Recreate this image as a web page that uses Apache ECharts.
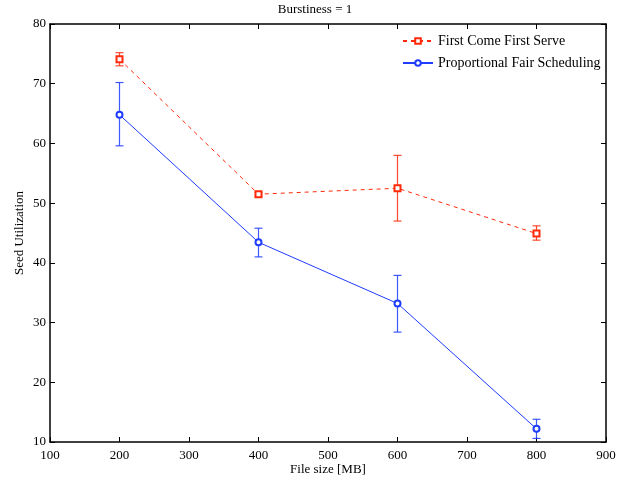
<!DOCTYPE html>
<html><head><meta charset="utf-8">
<script src="https://cdn.jsdelivr.net/npm/echarts@6/dist/echarts.min.js"></script>
<style>html,body{margin:0;padding:0;background:#fff}#c{width:630px;height:479px}</style>
</head><body><div id="c"></div>
<script>
const fileSizes = [200, 400, 600, 800];
const fcfsMean = [74.1, 51.5, 52.5, 44.9];
const fcfsLow  = [73.0, 51.2, 47.0, 43.8];
const fcfsHigh = [75.2, 51.8, 58.0, 46.2];
const pfsMean = [64.8, 43.45, 33.2, 12.2];
const pfsLow  = [59.6, 41.0, 28.4, 10.6];
const pfsHigh = [70.2, 45.8, 37.9, 13.8];

const RED = '#ff2a0a', BLUE = '#1f3cff';
const FONT = 'Liberation Serif';

function errSeries(low, high, color) {
  return {
    type: 'custom', silent: true, z: 3,
    data: fileSizes.map((x, i) => [x, low[i], high[i]]),
    renderItem: function (params, api) {
      const lo = api.coord([api.value(0), api.value(1)]);
      const hi = api.coord([api.value(0), api.value(2)]);
      const w = 4;
      const st = { stroke: color, lineWidth: 1.2, opacity: 0.85 };
      return { type: 'group', children: [
        { type: 'line', shape: { x1: lo[0], y1: lo[1], x2: hi[0], y2: hi[1] }, style: st },
        { type: 'line', shape: { x1: lo[0] - w, y1: lo[1], x2: lo[0] + w, y2: lo[1] }, style: st },
        { type: 'line', shape: { x1: hi[0] - w, y1: hi[1], x2: hi[0] + w, y2: hi[1] }, style: st }
      ]};
    }
  };
}

const axisCommon = {
  axisLine: { show: true, lineStyle: { color: '#000', width: 1.5 } },
  axisTick: { show: true, inside: true, length: 5, lineStyle: { color: '#000', width: 1 } },
  splitLine: { show: false },
  axisLabel: { color: '#000', fontFamily: FONT, fontSize: 13 }
};

const chart = echarts.init(document.getElementById('c'));
chart.setOption({
  animation: false,
  backgroundColor: '#fff',
  title: { text: 'Burstiness = 1', left: 'center', top: 3, padding: 0,
    textStyle: { fontFamily: FONT, fontSize: 13, fontWeight: 'normal', color: '#000' } },
  grid: { left: 50, right: 24, top: 24, bottom: 37, containLabel: false, outerBoundsMode: 'none' },
  legend: {
    orient: 'vertical', left: 402, top: 34, itemGap: 8,
    padding: 0, itemWidth: 30, itemHeight: 7,
    textStyle: { fontFamily: FONT, fontSize: 14, color: '#000' },
    data: ['First Come First Serve', 'Proportional Fair Scheduling']
  },
  xAxis: [
    Object.assign({}, axisCommon, { type: 'value', min: 100, max: 900, interval: 100,
      name: 'File size [MB]', nameLocation: 'middle', nameGap: 21, nameMoveOverlap: false,
      nameTextStyle: { fontFamily: FONT, fontSize: 13, color: '#000' },
      axisLabel: { color: '#000', fontFamily: FONT, fontSize: 13, margin: 7 } }),
    Object.assign({}, axisCommon, { type: 'value', position: 'top', min: 100, max: 900, interval: 100,
      axisLabel: { show: false } })
  ],
  yAxis: [
    Object.assign({}, axisCommon, { type: 'value', min: 10, max: 80, interval: 10,
      name: 'Seed Utilization', nameLocation: 'middle', nameGap: 24, nameMoveOverlap: false,
      nameTextStyle: { fontFamily: FONT, fontSize: 13, color: '#000' },
      axisLabel: { color: '#000', fontFamily: FONT, fontSize: 13, margin: 4 } }),
    Object.assign({}, axisCommon, { type: 'value', position: 'right', min: 10, max: 80, interval: 10,
      axisLabel: { show: false } })
  ],
  series: [
    { name: 'First Come First Serve', type: 'line', z: 4,
      data: fileSizes.map((x, i) => [x, fcfsMean[i]]),
      symbol: 'emptyRect', symbolSize: 6,
      lineStyle: { color: RED, width: 1, type: [4, 4] },
      itemStyle: { color: RED, borderColor: RED, borderWidth: 1 } },
    { name: 'Proportional Fair Scheduling', type: 'line', z: 4,
      data: fileSizes.map((x, i) => [x, pfsMean[i]]),
      symbol: 'emptyCircle', symbolSize: 6,
      lineStyle: { color: BLUE, width: 1 },
      itemStyle: { color: BLUE, borderColor: BLUE, borderWidth: 1 } },
    errSeries(fcfsLow, fcfsHigh, RED),
    errSeries(pfsLow, pfsHigh, BLUE)
  ]
});
</script></body></html>
